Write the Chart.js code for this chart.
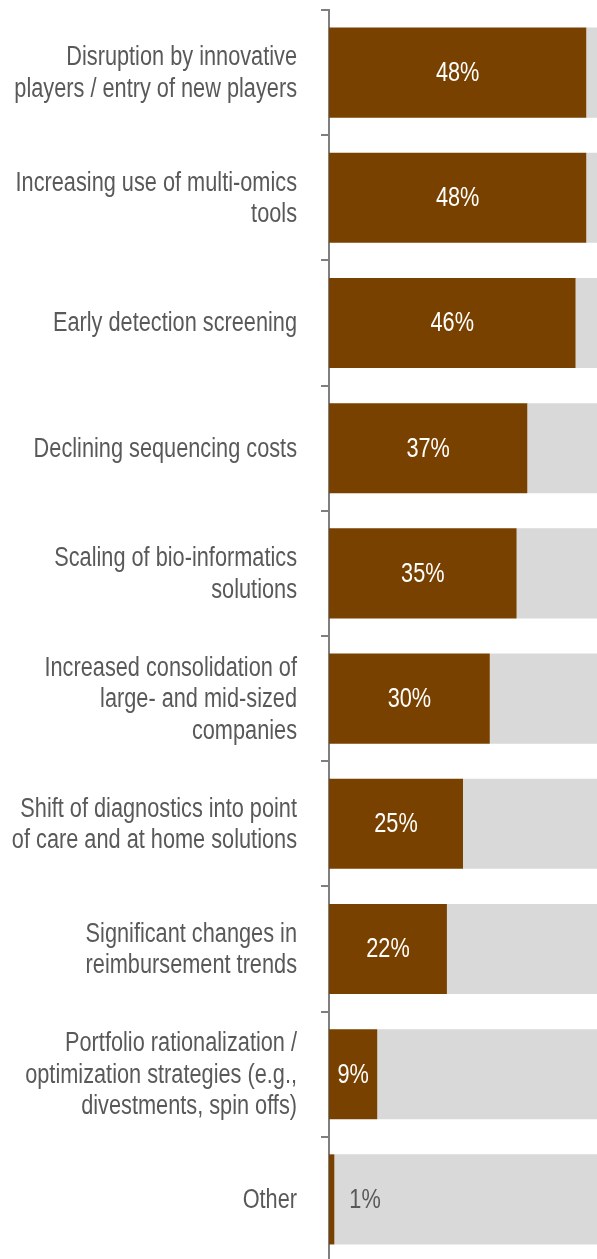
<!DOCTYPE html>
<html>
<head>
<meta charset="utf-8">
<script src="https://cdn.jsdelivr.net/npm/chart.js@4/dist/chart.umd.min.js"></script>
<style>
  html, body { margin: 0; padding: 0; background: #ffffff; overflow: hidden; }
  #wrap { position: relative; width: 597px; height: 1262px; }
</style>
</head>
<body>
<div id="wrap"><canvas id="c"></canvas></div>
<script>
// Survey categories (multi-line labels) and share of respondents (%)
const categories = [
  ["Disruption by innovative", "players / entry of new players"],
  ["Increasing use of multi-omics", "tools"],
  ["Early detection screening"],
  ["Declining sequencing costs"],
  ["Scaling of bio-informatics", "solutions"],
  ["Increased consolidation of", "large- and mid-sized", "companies"],
  ["Shift of diagnostics into point", "of care and at home solutions"],
  ["Significant changes in", "reimbursement trends"],
  ["Portfolio rationalization /", "optimization strategies (e.g.,", "divestments, spin offs)"],
  ["Other"]
];
const shares = [48, 48, 46, 37, 35, 30, 25, 22, 9, 1];
const remainder = shares.map(v => 100 - v);

const FONT = "'Liberation Sans', Arial, sans-serif";
const FONT_SIZE = 27;
const LINE_H = 31.5;
const NARROW = 0.805;   // horizontal squeeze for a narrow typeface look
const BROWN = '#794100';
const GREY = '#d9d9d9';
const TEXT = '#595959';
const AXIS = '#7f7f7f';
const TICK_LEN = 8;
const TICK_PAD = 24;

// Category labels, right-aligned left of the axis, condensed horizontally
const categoryLabels = {
  id: 'categoryLabels',
  afterDraw(chart) {
    const s = chart.scales.y;
    const ctx = chart.ctx;
    const ax = s.right - TICK_LEN - TICK_PAD;
    ctx.save();
    ctx.font = FONT_SIZE + 'px ' + FONT;
    ctx.fillStyle = TEXT;
    ctx.textAlign = 'right';
    ctx.textBaseline = 'middle';
    s.ticks.forEach((t, i) => {
      const lines = [].concat(s.getLabelForValue(t.value));
      const yc = s.getPixelForTick(i);
      const y0 = yc - (lines.length - 1) * LINE_H / 2;
      lines.forEach((ln, k) => {
        ctx.save();
        ctx.translate(ax, y0 + k * LINE_H + 1);
        ctx.scale(NARROW, 1);
        ctx.fillText(ln, 0, 0);
        ctx.restore();
      });
    });
    ctx.restore();
  }
};

// Writes the percentage on each brown bar (outside when the bar is too thin)
const valueLabels = {
  id: 'valueLabels',
  afterDatasetsDraw(chart) {
    const ctx = chart.ctx;
    const meta = chart.getDatasetMeta(0);
    ctx.save();
    ctx.font = FONT_SIZE + 'px ' + FONT;
    ctx.textBaseline = 'middle';
    meta.data.forEach((bar, i) => {
      const txt = shares[i] + '%';
      const w = ctx.measureText(txt).width * NARROW;
      const left = bar.base, right = bar.x;
      let ax;
      ctx.save();
      if (right - left > w + 8) {
        ctx.fillStyle = '#ffffff';
        ctx.textAlign = 'center';
        ax = (left + right) / 2;
      } else {
        ctx.fillStyle = TEXT;
        ctx.textAlign = 'left';
        ax = right + 15;
      }
      ctx.translate(ax, bar.y + 1);
      ctx.scale(NARROW, 1);
      ctx.fillText(txt, 0, 0);
      ctx.restore();
    });
    ctx.restore();
  }
};

new Chart(document.getElementById('c'), {
  type: 'bar',
  data: {
    labels: categories,
    datasets: [
      { data: shares, backgroundColor: BROWN, barPercentage: 0.72, categoryPercentage: 1.0 },
      { data: remainder, backgroundColor: GREY, barPercentage: 0.72, categoryPercentage: 1.0 }
    ]
  },
  options: {
    indexAxis: 'y',
    responsive: true,
    maintainAspectRatio: false,
    animation: false,
    layout: { padding: { top: 10, right: 0, bottom: 0, left: 0 } },
    plugins: { legend: { display: false }, tooltip: { enabled: false } },
    scales: {
      x: {
        stacked: true,
        display: false,
        min: 0,
        max: 50
      },
      y: {
        stacked: true,
        afterFit(scale) {
          scale.width = 329;
          scale.paddingTop = 0;
          scale.paddingBottom = 0;
        },
        grid: {
          display: true,
          drawOnChartArea: false,
          drawTicks: true,
          tickLength: TICK_LEN,
          color: AXIS,
          lineWidth: 2,
          offset: true
        },
        border: { display: true, color: AXIS, width: 2 },
        ticks: {
          display: false,
          autoSkip: false
        }
      }
    }
  },
  plugins: [categoryLabels, valueLabels]
});
</script>
</body>
</html>
